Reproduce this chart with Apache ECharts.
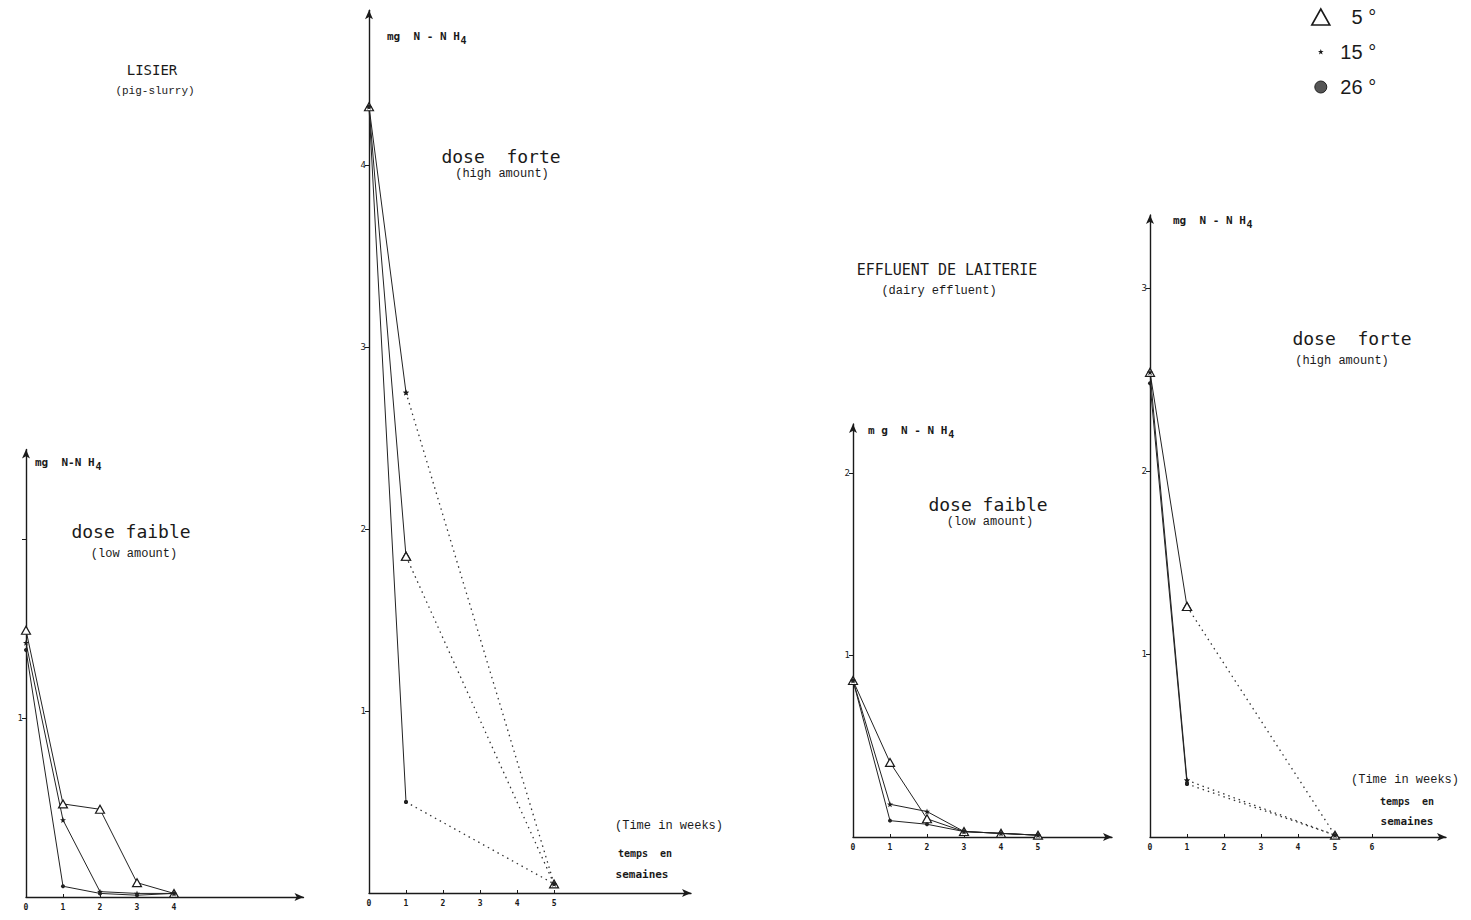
<!DOCTYPE html>
<html>
<head>
<meta charset="utf-8">
<title>mg N-NH4 - lisier / effluent de laiterie</title>
<style>
  html, body { margin: 0; padding: 0; background: #fff; }
  #chart { width: 1471px; height: 920px; }
</style>
<script src="https://cdn.jsdelivr.net/npm/echarts@6.0.0/dist/echarts.min.js"></script>
</head>
<body>
<div id="chart"></div>
<script>
// ---------------------------------------------
// N-NH4 decay, pig slurry & dairy effluent, 3 temperatures
// ---------------------------------------------

const TEMPS = ["5 °", "15 °", "26 °"];

// LISIER - dose faible (weeks 0..4)
const PIG_LOW_WEEKS = [0, 1, 2, 3, 4];
const PIG_LOW_5 = [1.49, 0.52, 0.49, 0.08, 0.02];
const PIG_LOW_15 = [1.42, 0.43, 0.03, 0.02, 0.02];
const PIG_LOW_26 = [1.38, 0.06, 0.02, 0.01, 0.02];

// LISIER - dose forte (solid to week 1, dotted to week 5)
const PIG_HIGH_WEEKS = [0, 1, 5];
const PIG_HIGH_5 = [4.32, 1.85, 0.05];
const PIG_HIGH_15 = [4.32, 2.75, 0.05];
const PIG_HIGH_26 = [4.32, 0.50, 0.05];

// EFFLUENT DE LAITERIE - dose faible (weeks 0..5)
const DAIRY_LOW_WEEKS = [0, 1, 2, 3, 4, 5];
const DAIRY_LOW_5 = [0.86, 0.41, 0.10, 0.03, 0.02, 0.01];
const DAIRY_LOW_15 = [0.86, 0.18, 0.14, 0.03, 0.02, 0.01];
const DAIRY_LOW_26 = [0.86, 0.09, 0.07, 0.03, 0.02, 0.01];

// EFFLUENT DE LAITERIE - dose forte
const DAIRY_HIGH_WEEKS = [0, 1, 5];
const DAIRY_HIGH_5 = [2.54, 1.26, 0.01];
const DAIRY_HIGH_15 = [2.54, 0.31, 0.01];
const DAIRY_HIGH_26 = [2.48, 0.29, 0.01];

// tick labels per panel
const X_LABELS = [[0, 1, 2, 3, 4], [0, 1, 2, 3, 4, 5], [0, 1, 2, 3, 4, 5], [0, 1, 2, 3, 4, 5, 6]];
const Y_TICKS = [[1, 2], [1, 2, 3, 4], [1, 2], [1, 2, 3]];
const Y_LABELS = [[1], [1, 2, 3, 4], [1, 2], [1, 2, 3]];

(function () {

    const dom = document.getElementById("chart");
    const chart = echarts.init(dom, null, { renderer: "svg" });

    const INK = "#1a1a1a";
    const MONO = "'DejaVu Sans Mono', monospace";
    const COURIER = "'Liberation Mono', monospace";

    const STAR = "path://M0,-3 L0.71,-0.97 L2.85,-0.93 L1.14,0.37 L1.76,2.43 L0,1.2 L-1.76,2.43 L-1.14,0.37 L-2.85,-0.93 L-0.71,-0.97 Z";
    // padded icons so the legend draws them smaller than the item box
    const LEGEND_STAR = "path://M-8,-8 L-8,-8 M8,8 L8,8 M0,-3 L0.71,-0.97 L2.85,-0.93 L1.14,0.37 L1.76,2.43 L0,1.2 L-1.76,2.43 L-1.14,0.37 L-2.85,-0.93 L-0.71,-0.97 Z";
    const LEGEND_DOT = "path://M-8,-8 L-8,-8 M8,8 L8,8 M6,0 A6,6 0 1 1 -6,0 A6,6 0 1 1 6,0 Z";

    // grid boxes, origin at bottom-left
    const PANELS = [
        { left: 26, top: 449.5, width: 277.5, height: 447.5, xMax: 7.5, yMax: 2.5 },
        { left: 369, top: 10.3, width: 322, height: 882.7, xMax: 8.7, yMax: 4.85 },
        { left: 853, top: 424, width: 259, height: 413, xMax: 7, yMax: 2.27 },
        { left: 1150, top: 215, width: 296, height: 622, xMax: 8, yMax: 3.4 }
    ];

    const MARKS = [
        { symbol: "triangle", symbolSize: [9, 8], itemStyle: { color: "#fff", borderColor: INK, borderWidth: 1.2 } },
        { symbol: STAR, symbolSize: 6, itemStyle: { color: INK } },
        { symbol: "circle", symbolSize: 4, itemStyle: { color: "#222" } }
    ];

    const pairs = (weeks, vals) => weeks.map((w, i) => [w, vals[i]]);

    function line(panel, t, data, dotted) {
        return Object.assign({
            type: "line",
            name: TEMPS[t],
            xAxisIndex: panel,
            yAxisIndex: panel,
            data,
            showSymbol: true,
            lineStyle: dotted
                ? { color: "#333", width: 1.3, type: [1.5, 4] }
                : { color: "#222", width: 1 },
            emphasis: { disabled: true },
            z: 3
        }, MARKS[t]);
    }

    const series = [];
    [[PIG_LOW_5, PIG_LOW_15, PIG_LOW_26], [DAIRY_LOW_5, DAIRY_LOW_15, DAIRY_LOW_26]].forEach((set, k) => {
        const panel = k === 0 ? 0 : 2;
        const weeks = k === 0 ? PIG_LOW_WEEKS : DAIRY_LOW_WEEKS;
        set.forEach((vals, t) => series.push(line(panel, t, pairs(weeks, vals), false)));
    });
    [[PIG_HIGH_5, PIG_HIGH_15, PIG_HIGH_26], [DAIRY_HIGH_5, DAIRY_HIGH_15, DAIRY_HIGH_26]].forEach((set, k) => {
        const panel = k === 0 ? 1 : 3;
        const weeks = k === 0 ? PIG_HIGH_WEEKS : DAIRY_HIGH_WEEKS;
        set.forEach((vals, t) => {
            const d = pairs(weeks, vals);
            series.push(line(panel, t, d.slice(0, 2), false));
            series.push(line(panel, t, d.slice(1), true));
        });
    });

    const axisLine = { show: true, onZero: false, symbol: ["none", "arrow"], symbolSize: [6, 9], lineStyle: { color: INK, width: 1.4 } };

    const grid = PANELS.map(p => ({ left: p.left, top: p.top, width: p.width, height: p.height, containLabel: false }));

    const xAxis = PANELS.map((p, i) => ({
        type: "value", gridIndex: i, min: 0, max: p.xMax,
        axisLine,
        splitLine: { show: false },
        axisTick: { show: true, customValues: X_LABELS[i], length: 3, inside: true, lineStyle: { color: INK } },
        axisLabel: { customValues: X_LABELS[i], fontFamily: MONO, fontWeight: "bold", fontSize: 8, color: INK, margin: 6 }
    }));

    const yAxis = PANELS.map((p, i) => ({
        type: "value", gridIndex: i, min: 0, max: p.yMax,
        axisLine,
        splitLine: { show: false },
        axisTick: { show: true, customValues: Y_TICKS[i], length: 4, lineStyle: { color: INK } },
        axisLabel: { customValues: Y_LABELS[i], fontFamily: MONO, fontSize: 9, color: INK, margin: 3 }
    }));

    // free text of the figure
    function txt(x, y, text, font, align) {
        return { type: "text", x, y, silent: true, style: { text, font, fill: INK, align: align || "center", verticalAlign: "middle" } };
    }
    function unit(x, y, spaced) {
        return [
            txt(x, y, spaced, "bold 11px " + MONO, "left"),
            txt(x + spaced.length * 6.6 + 1, y + 4, "4", "bold 10px " + MONO, "left")
        ];
    }

    const graphic = [
        txt(152, 70, "LISIER", "14px " + MONO),
        txt(155, 91, "(pig-slurry)", "11px " + COURIER),
        txt(947, 270, "EFFLUENT DE LAITERIE", "15px " + MONO),
        txt(939, 291, "(dairy effluent)", "12px " + COURIER),

        txt(131, 531, "dose faible", "18px " + MONO),
        txt(134, 554, "(low amount)", "12px " + COURIER),
        txt(501, 156, "dose  forte", "18px " + MONO),
        txt(502, 174, "(high amount)", "12px " + COURIER),
        txt(988, 504, "dose faible", "18px " + MONO),
        txt(990, 522, "(low amount)", "12px " + COURIER),
        txt(1352, 338, "dose  forte", "18px " + MONO),
        txt(1342, 361, "(high amount)", "12px " + COURIER),

        txt(669, 826, "(Time in weeks)", "12px " + COURIER),
        txt(645, 853, "temps  en", "bold 10px " + MONO),
        txt(642, 874, "semaines", "bold 11px " + MONO),
        txt(1405, 780, "(Time in weeks)", "12px " + COURIER),
        txt(1407, 801, "temps  en", "bold 10px " + MONO),
        txt(1407, 821, "semaines", "bold 11px " + MONO)
    ].concat(
        unit(35, 462, "mg  N-N H"),
        unit(387, 36, "mg  N - N H"),
        unit(868, 430, "m g  N - N H"),
        unit(1173, 220, "mg  N - N H")
    );

    chart.setOption({
        backgroundColor: "#fff",
        animation: false,
        legend: {
            orient: "vertical",
            left: 1306,
            top: 2,
            itemWidth: 18,
            itemHeight: 16,
            itemGap: 15,
            selectedMode: false,
            formatter: n => (n === TEMPS[0] ? "   " + n : " " + n),
            textStyle: { fontFamily: "'Liberation Sans', Arial, sans-serif", fontSize: 20, color: INK },
            data: [
                { name: TEMPS[0], icon: "triangle", itemStyle: { color: "#fff", borderColor: INK, borderWidth: 1.6 } },
                { name: TEMPS[1], icon: LEGEND_STAR, itemStyle: { color: INK, borderWidth: 0 } },
                { name: TEMPS[2], icon: LEGEND_DOT, itemStyle: { color: "#555", borderColor: "#222", borderWidth: 1 } }
            ]
        },
        grid,
        xAxis,
        yAxis,
        series,
        graphic
    });

    window.addEventListener("resize", () => chart.resize());

})();
</script>
</body>
</html>
